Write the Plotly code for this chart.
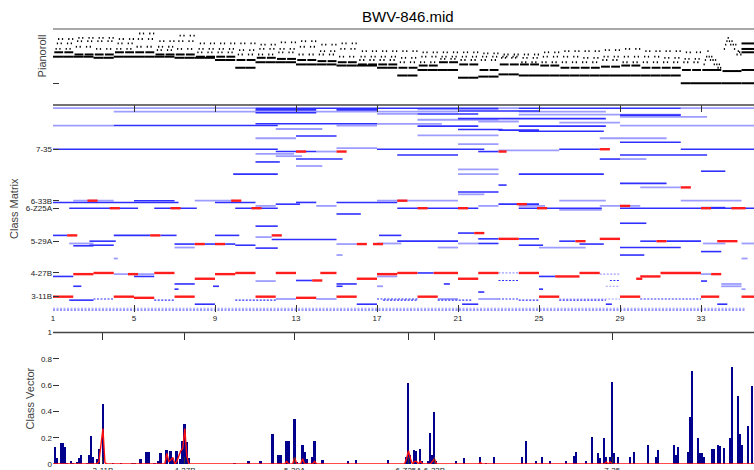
import plotly.graph_objects as go

W, H = 754, 470
FONT = "Liberation Sans, Arial, sans-serif"

# ---------------------------------------------------------------- pianoroll
# Chord tones of bars 1-32 (bass, tenor, three upper voices), MIDI pitch
bar_chords = [
    [60, 64, 67, 72, 76], [60, 62, 69, 74, 77], [59, 62, 67, 74, 77], [60, 64, 67, 72, 76],
    [60, 64, 69, 76, 81], [60, 62, 66, 69, 74], [59, 62, 67, 74, 79], [59, 60, 64, 67, 72],
    [57, 60, 64, 67, 72], [50, 57, 62, 66, 72], [55, 59, 62, 67, 71], [55, 58, 64, 67, 73],
    [53, 57, 62, 69, 74], [53, 56, 62, 65, 71], [52, 55, 60, 67, 72], [52, 53, 57, 60, 65],
    [50, 53, 57, 60, 65], [43, 50, 55, 59, 65], [48, 52, 55, 60, 64], [48, 55, 58, 60, 64],
    [41, 53, 57, 60, 64], [42, 48, 57, 60, 63], [44, 53, 59, 60, 62], [43, 53, 55, 59, 62],
    [43, 52, 55, 60, 64], [43, 50, 55, 60, 65], [43, 50, 55, 59, 65], [43, 51, 57, 60, 66],
    [43, 52, 55, 60, 67], [43, 50, 55, 60, 65], [43, 50, 55, 59, 65], [36, 48, 55, 58, 64],
]
# Bars 33-34: pedal, held tenor and a free sixteenth run; bar 35: final chord
bar33_hold = [36, 48]
bar33_run = [53, 57, 60, 65, 60, 57, 60, 57, 53, 57, 53, 50, 53, 50]
bar34_hold = [36, 47]
bar34_run = [67, 71, 74, 77, 74, 71, 74, 71, 67, 71, 62, 65, 64, 62]
final_chord = [36, 48, 64, 67, 72]
piano_tick = [36]

held, short = [], []
for i, (b, t, u1, u2, u3) in enumerate(bar_chords):
    for half in (0.0, 0.5):
        s = 1 + i + half
        held.append((b, s, s + 0.5))
        held.append((t, s + 1 / 16, s + 0.5))
        for k, p in enumerate([u1, u2, u3, u1, u2, u3]):
            st = s + (2 + k) / 16
            short.append((p, st, st + 1 / 16))
for bar, hold, run in ((33, bar33_hold, bar33_run), (34, bar34_hold, bar34_run)):
    held.append((hold[0], bar, bar + 1))
    held.append((hold[1], bar + 1 / 16, bar + 1))
    for k, p in enumerate(run):
        st = bar + (2 + k) / 16
        short.append((p, st, st + 1 / 16))
for p in final_chord:
    held.append((p, 35, 36))


def seg_xy(items):
    xs, ys = [], []
    for p, a, b in items:
        xs += [a, b, None]
        ys += [p, p, None]
    return xs, ys


# ------------------------------------------------------------- class matrix
# (class row, first bar, last bar) for each kind of segment
matrix_light = [
    (351, 1, 11), (351, 23, 24), (351, 32, 35.62), (349, 19, 23), (345, 4, 21), (345, 24, 28.3),
    (341, 17, 19), (340, 24, 32), (336, 29, 33.3), (331, 19, 23), (328, 22, 24), (326, 26, 29),
    (324, 17, 20.2), (321, 1, 4), (321, 15, 17), (321, 29, 35.62), (315, 12, 14.3), (304, 19, 23),
    (299, 11, 13), (299, 28, 31.3), (289, 21, 23), (282, 15, 17), (278, 23, 26), (276, 14, 15),
    (272, 11, 12.9), (268, 12, 13.3), (263, 29, 30.3), (251, 13, 14.3), (245, 21, 23), (237, 21, 23),
    (214, 30, 32), (202, 21, 22.3), (191, 2, 4), (191, 8, 9.9), (191, 17, 21), (191, 26, 28.3),
    (191, 32, 35), (182, 11, 12), (182, 14, 15), (182, 22, 23), (182, 24, 25.3), (182, 28, 30),
    (175, 26, 28.1), (128, 11, 11.8), (117, 1.8, 3), (116, 15, 16), (117, 17, 18.2), (117, 21, 22),
    (117, 33.1, 34.2), (117, 35, 35.62), (110, 7, 8), (110, 20, 21), (110, 25, 27.3), (97, 15, 15.3),
    (91, 35, 35.3), (91, 4, 4.2), (64, 4, 4.7), (64, 5.2, 6), (64, 33, 33.5), (60, 17, 18),
    (52, 11, 12), (47, 34, 35), (43, 17, 17.3), (43, 34, 35), (38, 35, 35.2), (21, 12, 13),
    (21, 14, 15), (21, 20, 21), (21, 22, 23),
]
matrix_blue = [
    (351, 11, 23), (351, 24, 32), (348, 11, 14), (348, 15, 17), (346, 21, 25), (343, 11, 14),
    (341, 19, 22), (339, 29, 32), (333, 21, 28.3), (324, 11, 17), (321, 4, 12.1), (320, 19, 22),
    (320, 24, 28.3), (314, 21, 23.2), (313, 23, 25), (311, 24, 28.2), (303, 13, 15), (292, 29, 32),
    (280, 1, 12.1), (280, 17, 22.3), (280, 26, 28), (280, 32, 35.62), (276, 12, 14), (276, 22, 23),
    (270, 18, 21), (270, 29, 33.3), (263, 13, 15.3), (263, 28, 29), (258, 11, 12.2), (242, 33, 34.2),
    (237, 9.9, 12.1), (237, 24, 28.2), (221, 29, 31.3), (218, 23, 23.4), (206, 21, 23), (191, 5, 7),
    (188, 1, 7.2), (188, 9, 11), (188, 13, 14), (188, 15, 18), (185, 12, 13.2), (185, 23, 25),
    (179, 33, 34.2), (178, 1.8, 5.2), (178, 6, 8.1), (178, 10, 12.1), (178, 18, 22), (178, 24, 28.1),
    (178, 29, 35.62), (168, 15, 16.2), (152, 29, 30.3), (147, 11, 12.1), (135, 21, 21.8),
    (131, 1, 1.7), (131, 4, 5.8), (131, 6.3, 7.1), (131, 9, 10.2), (131, 17.1, 18.2), (124, 11.8, 15),
    (125, 22, 23), (125, 24, 25), (121, 2.8, 4.1), (121, 18, 21), (121, 26, 26.8), (121, 30, 30.8),
    (121, 31.3, 33), (116, 7, 8), (116, 8.5, 9), (116, 9.5, 10), (117, 22, 23), (116, 27, 28.2),
    (114, 2.8, 4), (114, 10, 11), (114, 24, 25.2), (113, 2, 3), (110, 29, 32), (109, 11, 12.1),
    (103, 33, 34), (97, 29, 30.2), (66, 19, 19.8), (60, 1, 2), (60, 5, 6), (60, 25, 25.8),
    (53, 13, 13.8), (52, 33, 33.3), (47, 7, 8), (47, 15, 16), (47, 20.3, 20.6), (43, 2, 2.4),
    (43, 8.9, 9.2), (43, 15, 15.3), (38, 7, 7.2), (38, 25, 25.2), (33, 22, 22.3), (19, 1.8, 3),
    (12, 8, 9), (12, 16, 17), (12, 21.2, 22), (12, 28.3, 28.6), (12, 33.8, 34.3),
]
matrix_red = [
    (280, 28, 28.5), (276, 13, 13.5), (276, 15, 15.5), (276, 23, 23.4), (214, 32, 32.5),
    (191, 2.7, 3.2), (191, 9.8, 10.3), (191, 18, 18.5), (185, 23.9, 24.4), (182, 29, 29.5),
    (178, 3.8, 4.3), (178, 6.8, 7.3), (178, 10.8, 11.3), (178, 19, 19.5), (178, 21, 21.5),
    (178, 24.9, 25.4), (178, 33, 33.5), (178, 34.5, 35.2), (135, 21.8, 22.3), (131, 1.7, 2.2),
    (131, 5.8, 6.3), (131, 11.8, 12.3), (125, 23, 24), (125, 28, 29), (121, 26.8, 27.3),
    (121, 30.8, 31.3), (121, 33.8, 34.8), (116, 8, 8.5), (116, 9, 9.5), (116, 16, 16.5),
    (116, 16.8, 17.3),
    (66, 3, 4), (66, 6, 7), (66, 10, 11), (66, 12, 13), (66, 14.2, 15), (66, 18, 19),
    (66, 19.8, 21), (66, 22, 23), (66, 24, 25), (66, 27, 28), (66, 31, 33), (64, 2, 3),
    (64, 4.7, 5.2), (64, 9, 10), (64, 17, 18), (64, 33.5, 34), (60, 25.8, 27), (60, 30, 31),
    (56, 8, 9), (56, 16, 17), (56, 21, 22), (56, 29.8, 30.1), (53, 13.8, 14.3),
    (25, 1, 2), (25, 4, 5), (25, 7, 8), (25, 11, 12), (25, 15, 16), (25, 19, 20), (25, 25, 26),
    (25, 29, 30), (25, 33, 33.9), (25, 35, 35.62), (23, 5, 6), (23, 13, 14),
]
matrix_blue_dotted = [
    (53, 23, 24), (53, 28.5, 29), (21, 3, 4), (21, 17, 19), (21, 23, 24), (21, 30, 33),
    (19, 6, 7), (19, 10, 12), (19, 17.3, 19), (19, 20, 21.7), (19, 24, 25), (19, 26, 28.3),
    (2, 1, 35.2),
]
matrix_light_dotted = [(66, 23, 24), (64, 28, 29), (43, 28.3, 29), (21, 26, 29), (5, 1, 35.2)]

class_labels = ["3-11B", "4-27B", "5-29A", "6-Z25A", "6-33B", "7-35"]
class_index = [25, 66, 121, 178, 191, 280]
bar_ticks = [1, 5, 9, 13, 17, 21, 25, 29, 33]

# ------------------------------------------------------------- class vector
vec_idx = [1, 2, 4, 5, 6, 7, 9, 10, 12, 13, 14, 17, 18, 19, 20, 22, 23, 25, 30, 34, 40, 41, 44,
           47, 48, 51, 53, 54, 57, 59, 60, 62, 64, 65, 66, 67, 68, 91, 98, 104, 110, 113, 114,
           117, 118, 121, 122, 125, 126, 127, 130, 131, 135, 148, 152, 168, 177, 178, 179, 181,
           182, 184, 185, 188, 189, 190, 191, 192, 202, 206, 214, 217, 221, 235, 237, 242, 245,
           249, 257, 261, 262, 267, 270, 273, 274, 276, 277, 279, 280, 281, 283, 289, 291, 298,
           302, 303, 311, 312, 313, 318, 319, 320, 323, 324, 325, 326, 330, 331, 333, 334, 336,
           339, 340, 343, 344, 345, 348, 350]
vec_val = [0.13, 0.05, 0.16, 0.16, 0.135, 0.01, 0.03, 0.01, 0.02, 0.05, 0.07, 0.01, 0.075, 0.22,
           0.055, 0.04, 0.12, 0.46, 0.01, 0.01, 0.015, 0.015, 0.04, 0.095, 0.095, 0.01, 0.03, 0.09,
           0.11, 0.105, 0.05, 0.10, 0.04, 0.175, 0.31, 0.17, 0.05, 0.01, 0.03, 0.025, 0.23, 0.07,
           0.07, 0.18, 0.18, 0.345, 0.02, 0.145, 0.095, 0.04, 0.055, 0.175, 0.035, 0.03, 0.035,
           0.035, 0.06, 0.62, 0.07, 0.11, 0.10, 0.12, 0.03, 0.03, 0.24, 0.07, 0.40, 0.03, 0.03,
           0.05, 0.06, 0.01, 0.06, 0.06, 0.18, 0.03, 0.06, 0.03, 0.03, 0.065, 0.095, 0.03, 0.21,
           0.09, 0.05, 0.20, 0.06, 0.06, 0.63, 0.09, 0.06, 0.06, 0.095, 0.15, 0.06, 0.11, 0.145,
           0.07, 0.13, 0.095, 0.36, 0.71, 0.20, 0.09, 0.09, 0.055, 0.12, 0.12, 0.15, 0.14, 0.125,
           0.20, 0.74, 0.52, 0.23, 0.15, 0.29, 0.60]
red_idx = [23, 24, 25, 26, 57, 58, 59, 60, 62, 63, 64, 65, 66, 67, 117, 121, 125, 131, 177, 178,
           179, 181, 182, 184, 190, 191, 214, 277, 279]
red_val = [0.02, 0.15, 0.27, 0.01, 0.08, 0.02, 0.03, 0.05, 0.02, 0.06, 0.10, 0.12, 0.27, 0.06,
           0.02, 0.05, 0.04, 0.02, 0.04, 0.10, 0.04, 0.02, 0.02, 0.02, 0.02, 0.04, 0.01, 0.015,
           0.015]
N_CLASSES = 351
vec_ticks = [0, 0.2, 0.4, 0.6, 0.8, 1]

red_line = {i: 0.0 for i in range(0, N_CLASSES + 1)}
red_line.update(dict(zip(red_idx, red_val)))

# ---------------------------------------------------------------- figure
def py(pix):
    return 1 - pix / H


def px(pix):
    return (pix - 53) / (W - 53)


fig = go.Figure()

hx, hy = seg_xy(held)
sx, sy = seg_xy(short)
fig.add_trace(go.Scatter(x=hx, y=hy, mode="lines", line=dict(color="black", width=2),
                         xaxis="x", yaxis="y", hoverinfo="skip"))
fig.add_trace(go.Scatter(x=sx, y=sy, mode="lines", line=dict(color="black", width=1.8),
                         xaxis="x", yaxis="y", hoverinfo="skip"))

styles = [
    (matrix_light, dict(color="#9d9dff", width=1.8)),
    (matrix_light_dotted, dict(color="#9d9dff", width=1.2, dash="2px,1.5px")),
    (matrix_blue, dict(color="#2f2fff", width=1.6)),
    (matrix_blue_dotted, dict(color="#2f2fff", width=1.2, dash="2px,1.5px")),
    (matrix_red, dict(color="#ff1c1c", width=2.4)),
]
for segs, st in styles:
    mx, my = seg_xy(segs)
    fig.add_trace(go.Scatter(x=mx, y=my, mode="lines", line=st,
                             xaxis="x2", yaxis="y2", hoverinfo="skip"))

fig.add_trace(go.Bar(x=vec_idx, y=vec_val, width=0.9,
                     marker=dict(color="#00008c", line=dict(width=0)),
                     xaxis="x3", yaxis="y3", hoverinfo="skip"))
fig.add_trace(go.Scatter(x=list(red_line.keys()), y=list(red_line.values()), mode="lines",
                         line=dict(color="#ff1010", width=1.4),
                         xaxis="x3", yaxis="y3", hoverinfo="skip"))

tickfont = dict(family=FONT, size=8, color="#222")
common = dict(showgrid=False, zeroline=False, showline=False, tickcolor="#333",
              tickwidth=1, tickfont=tickfont, automargin=False, tickangle=0)

fig.update_layout(
    width=W, height=H,
    margin=dict(l=53, r=0, t=0, b=0, pad=0, autoexpand=False),
    paper_bgcolor="white", plot_bgcolor="white",
    showlegend=False, bargap=0,
    font=dict(family=FONT, color="#222"),
    xaxis=dict(domain=[0, 1], range=[1, 35.617], anchor="y", showticklabels=False,
               ticks="", **common),
    yaxis=dict(domain=[py(86), py(29)], range=[33.5, 85.05], anchor="x",
               tickvals=piano_tick, ticktext=[""], ticks="inside", ticklen=6, **common),
    xaxis2=dict(domain=[0, 1], range=[1, 35.617], anchor="y2", tickvals=bar_ticks,
                ticks="inside", ticklen=7, mirror="ticks", **common),
    yaxis2=dict(domain=[py(312), py(105)], range=[-1.5, 356.5], anchor="x2",
                tickvals=class_index, ticktext=class_labels, ticks="inside", ticklen=6,
                **common),
    xaxis3=dict(domain=[0, 1], range=[0, N_CLASSES], anchor="y3", tickvals=class_index,
                ticktext=class_labels, ticks="inside", ticklen=7, mirror="ticks", **common),
    yaxis3=dict(domain=[py(464), py(332.5)], range=[0, 1], anchor="x3", tickvals=vec_ticks,
                ticktext=["0", "0.2", "0.4", "0.6", "0.8", "1"], ticks="inside", ticklen=6,
                **common),
    shapes=[
        dict(type="line", xref="paper", yref="paper", x0=0, x1=1, y0=py(29), y1=py(29),
             line=dict(color="#a8a8a8", width=2)),
        dict(type="line", xref="paper", yref="paper", x0=0, x1=1, y0=py(105), y1=py(105),
             line=dict(color="#444", width=1.5)),
        dict(type="line", xref="paper", yref="paper", x0=0, x1=1, y0=py(332.5), y1=py(332.5),
             line=dict(color="#444", width=1.5)),
    ],
    annotations=[
        dict(text="BWV-846.mid", xref="paper", yref="paper", x=px(408), y=py(16),
             showarrow=False, xanchor="center", yanchor="middle",
             font=dict(family=FONT, size=15, color="black")),
        dict(text="Pianoroll", xref="paper", yref="paper", x=px(41.7), y=py(55.7),
             textangle=-90, showarrow=False, xanchor="center", yanchor="middle",
             font=dict(family=FONT, size=11, color="#444")),
        dict(text="Class Matrix", xref="paper", yref="paper", x=px(14), y=py(209),
             textangle=-90, showarrow=False, xanchor="center", yanchor="middle",
             font=dict(family=FONT, size=11, color="#444")),
        dict(text="Class Vector", xref="paper", yref="paper", x=px(29.5), y=py(399),
             textangle=-90, showarrow=False, xanchor="center", yanchor="middle",
             font=dict(family=FONT, size=11, color="#444")),
    ],
)

fig.write_html("out.html")
